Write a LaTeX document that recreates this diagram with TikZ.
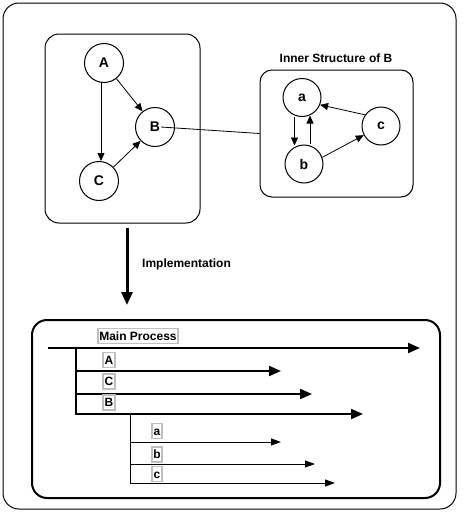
\documentclass[tikz,border=0pt]{standalone}
\usepackage{fontspec}
\setmainfont{Liberation Sans}
\usetikzlibrary{arrows.meta}
\begin{document}
\begin{tikzpicture}[x=1pt,y=-1pt,
  every node/.style={font=\fontsize{12}{14}\selectfont\bfseries},
  vtx/.style={draw,circle,line width=1pt,minimum size=39pt,inner sep=0pt,fill=white,font=\fontsize{14}{16}\selectfont\bfseries},
  frame/.style={draw,line width=1pt,rounded corners=14pt},
  garrow/.style={line width=0.8pt,-{Triangle[length=8pt,width=7pt]}},
  thick arrow/.style={line width=2pt,-{Triangle[length=12pt,width=10pt]}},
  thin arrow/.style={line width=1pt,-{Triangle[length=10pt,width=7pt]}},
  lbl/.style={draw=black!25,line width=1.5pt,fill=white,inner xsep=1.5pt,inner ysep=0pt,minimum height=15pt,text height=9pt,text depth=1pt}
]
\useasboundingbox (0,0) rectangle (463,514);
% outer frame
\draw[frame,rounded corners=16pt] (3,3) rectangle (456,509);
% left box
\node[frame,minimum width=155pt,minimum height=189pt,inner sep=0pt] (left) at (122.5,128.5) {};
% inner structure box
\node[frame,rounded corners=12pt,minimum width=153pt,minimum height=127pt,inner sep=0pt] (inner) at (336.5,133.5) {};
\node (title) at (336,58) {Inner Structure of B};
% graph nodes
\node[vtx] (A) at (104,63) {A};
\node[vtx] (B) at (155,127) {B};
\node[vtx] (C) at (99,181) {C};
\draw[garrow] ([xshift=-3pt]A.south) -- ([xshift=2pt]C.north);
\draw[garrow] (A) -- (B);
\draw[garrow] (C) -- (B);
\draw[line width=0.8pt] ([xshift=6pt]B.center) -- (inner.west);
\node[vtx,minimum size=38pt] (a) at (302,97.5) {a};
\node[vtx,minimum size=38pt] (b) at (304,164) {b};
\node[vtx,minimum size=38pt] (c) at (381,126) {c};
\draw[garrow] ([xshift=-7.5pt]a.south) -- ([xshift=-9.5pt,yshift=-1pt]b.north);
\draw[garrow] ([xshift=6pt,yshift=1pt]b.north) -- ([xshift=8pt,yshift=1.5pt]a.south);
\draw[garrow] (c.145) -- (a.-22);
\draw[garrow] (b.20) -- (c.208);
% implementation arrow
\coordinate (i0) at (127,228);
\coordinate (i1) at (127,305);
\draw[line width=3pt,-{Triangle[length=13pt,width=11pt]}] (i0) -- (i1);
\node[anchor=west,inner sep=0pt] (impl) at (142,264) {Implementation};
% process box
\node[draw,line width=2pt,rounded corners=15pt,minimum width=408pt,minimum height=178pt,inner sep=0pt] (proc) at (236,409) {};
% main process lines
\coordinate (m0) at (48,348);
\coordinate (m1) at (420,348);
\coordinate (v0) at (76,348);
\coordinate (v1) at (76,414);
\coordinate (pA) at (76,371);
\coordinate (pAe) at (281,371);
\coordinate (pC) at (76,394);
\coordinate (pCe) at (312,394);
\coordinate (pB) at (76,414);
\coordinate (pBe) at (363,414);
\draw[thick arrow] (m0) -- (m1);
\draw[line width=2pt] (v0) -- (v1);
\draw[thick arrow] (pA) -- (pAe);
\draw[thick arrow] (pC) -- (pCe);
\draw[thick arrow] ([xshift=-1pt]pB) -- (pBe);
\coordinate (s0) at (130,414);
\coordinate (s1) at (130,483.5);
\coordinate (qa) at (130,442);
\coordinate (qae) at (281,442);
\coordinate (qb) at (130,464);
\coordinate (qbe) at (315,464);
\coordinate (qc) at (130,483);
\coordinate (qce) at (335,483);
\draw[line width=1pt] (s0) -- (s1);
\draw[thin arrow] (qa) -- (qae);
\draw[thin arrow] (qb) -- (qbe);
\draw[thin arrow] ([xshift=-0.5pt]qc) -- (qce);
% labels
\node[lbl] (lmain) at (138,336) {Main Process};
\node[lbl] (lA) at (109,360) {A};
\node[lbl] (lC) at (109,381.5) {C};
\node[lbl] (lB) at (109,402.5) {B};
\node[lbl] (la) at (157,431) {a};
\node[lbl] (lb) at (157,454.5) {b};
\node[lbl] (lc) at (157,474) {c};
\end{tikzpicture}
\end{document}
